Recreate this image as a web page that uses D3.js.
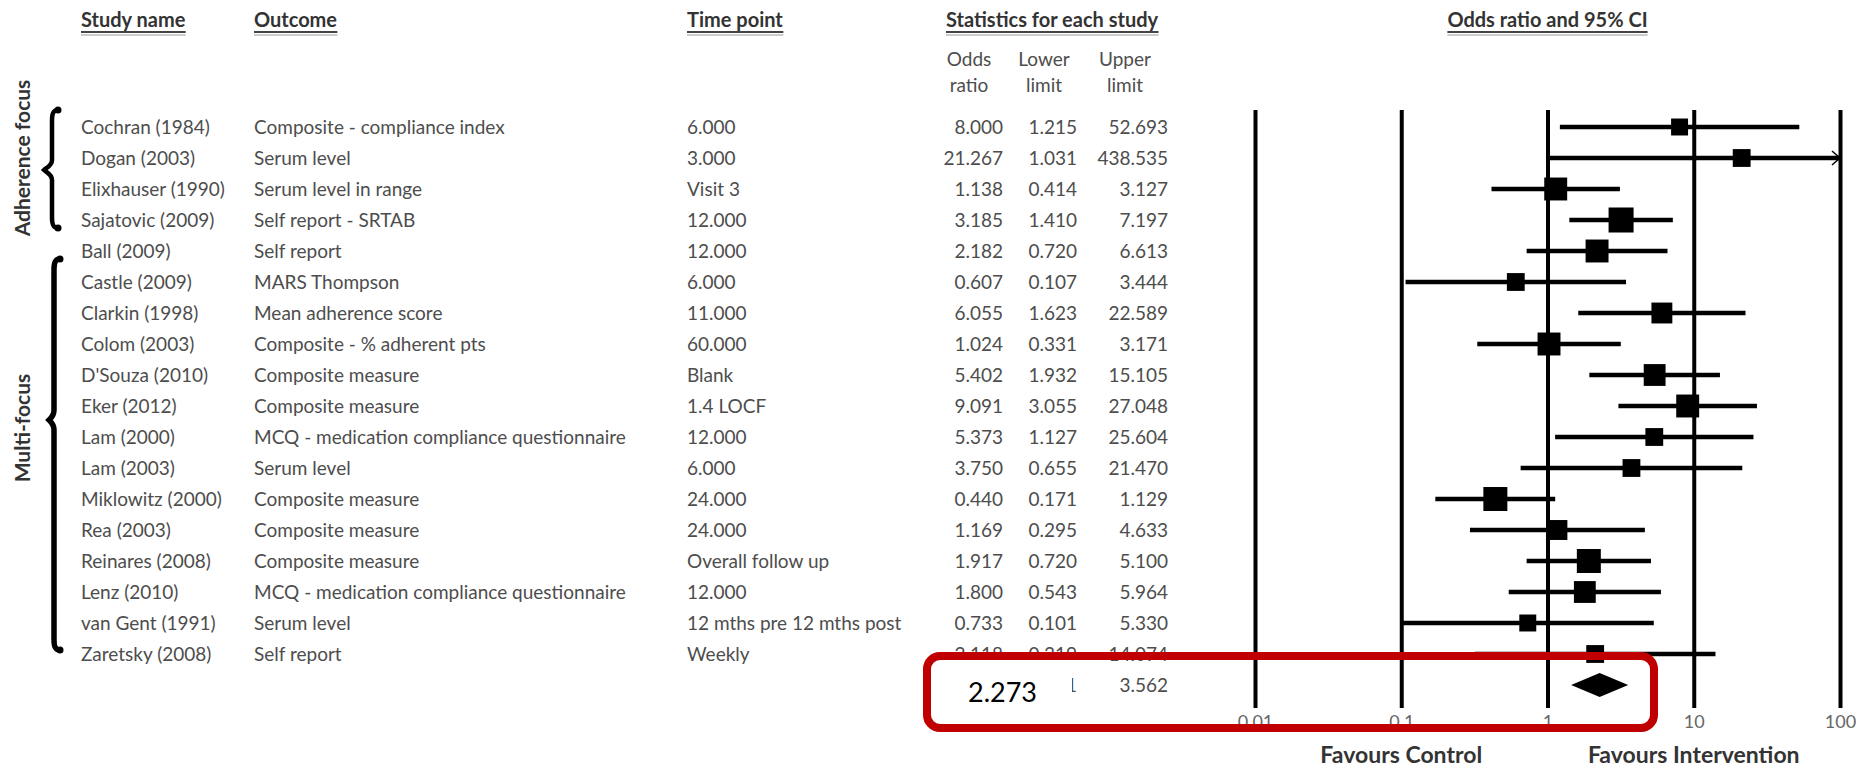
<!DOCTYPE html>
<html>
<head>
<meta charset="utf-8" />
<title>Odds ratio and 95% CI</title>
<script src="https://cdn.jsdelivr.net/npm/d3@7"></script>
<style>
body { margin: 0; background: #fff; }
svg text { font-family: Lato, "Open Sans", sans-serif; }
.body-text { font-size: 19px; fill: #4d4d4d; }
.head-text { font-size: 20px; font-weight: bold; fill: #333; }
</style>
</head>
<body>
<svg id="chart" width="1860" height="770"></svg>
<script>
// study rows
const studies = ["Cochran (1984)", "Dogan (2003)", "Elixhauser (1990)", "Sajatovic (2009)", "Ball (2009)",
  "Castle (2009)", "Clarkin (1998)", "Colom (2003)", "D'Souza (2010)", "Eker (2012)", "Lam (2000)",
  "Lam (2003)", "Miklowitz (2000)", "Rea (2003)", "Reinares (2008)", "Lenz (2010)", "van Gent (1991)",
  "Zaretsky (2008)"];
const outcomes = ["Composite - compliance index", "Serum level", "Serum level in range", "Self report - SRTAB",
  "Self report", "MARS Thompson", "Mean adherence score", "Composite - % adherent pts", "Composite measure",
  "Composite measure", "MCQ - medication compliance questionnaire", "Serum level", "Composite measure",
  "Composite measure", "Composite measure", "MCQ - medication compliance questionnaire", "Serum level",
  "Self report"];
const timePoints = ["6.000", "3.000", "Visit 3", "12.000", "12.000", "6.000", "11.000", "60.000", "Blank",
  "1.4 LOCF", "12.000", "6.000", "24.000", "24.000", "Overall follow up", "12.000",
  "12 mths pre 12 mths post", "Weekly"];
const oddsRatio = [8.000, 21.267, 1.138, 3.185, 2.182, 0.607, 6.055, 1.024, 5.402, 9.091, 5.373, 3.750,
  0.440, 1.169, 1.917, 1.800, 0.733, 2.118];
const lowerLimit = [1.215, 1.031, 0.414, 1.410, 0.720, 0.107, 1.623, 0.331, 1.932, 3.055, 1.127, 0.655,
  0.171, 0.295, 0.720, 0.543, 0.101, 0.319];
const upperLimit = [52.693, 438.535, 3.127, 7.197, 6.613, 3.444, 22.589, 3.171, 15.105, 27.048, 25.604,
  21.470, 1.129, 4.633, 5.100, 5.964, 5.330, 14.074];
// relative weight (square area)
const relWeight = [2.9, 3.2, 5.3, 6.3, 5.3, 3.2, 4.4, 5.3, 4.8, 5.3, 3.2, 3.2, 5.8, 4.0, 5.8, 4.8, 2.9, 3.2];

const pooled = { or: 2.273, lower: 1.451, upper: 3.562 };
const axisTicks = [0.01, 0.1, 1, 10, 100];
const tickLabels = ["0.01", "0.1", "1", "10", "100"];
const groups = [
  { name: "Adherence focus", first: 0, last: 3 },
  { name: "Multi-focus", first: 4, last: 17 }
];

const svg = d3.select("#chart");
const fmt = d3.format(".3f");

const x = d3.scaleLog().domain([0.01, 100]).range([1255, 1840]);
const y = d3.scaleLinear().domain([0, 18]).range([127, 685]);
const size = d3.scaleSqrt().domain([0, 6.3]).range([0, 25]);

// column headers
const headers = [
  { t: "Study name", x: 81, anchor: "start" },
  { t: "Outcome", x: 254, anchor: "start" },
  { t: "Time point", x: 687, anchor: "start" },
  { t: "Statistics for each study", x: 946, anchor: "start" },
  { t: "Odds ratio and 95% CI", x: x(1), anchor: "middle" }
];
headers.forEach(h => {
  const t = svg.append("text").attr("class", "head-text")
    .attr("x", h.x).attr("y", 27).attr("text-anchor", h.anchor).text(h.t);
  const bb = t.node().getBBox();
  svg.append("line").attr("x1", bb.x).attr("x2", bb.x + bb.width)
    .attr("y1", 32).attr("y2", 32).attr("stroke", "#444").attr("stroke-width", 1.8);
  svg.append("line").attr("x1", bb.x).attr("x2", bb.x + bb.width)
    .attr("y1", 35).attr("y2", 35).attr("stroke", "#999").attr("stroke-width", 1.2);
});

// stat sub headers
const subHeads = [["Odds", "ratio", 969], ["Lower", "limit", 1044], ["Upper", "limit", 1125]];
subHeads.forEach(s => {
  svg.append("text").attr("class", "body-text").attr("x", s[2]).attr("y", 66)
    .attr("text-anchor", "middle").text(s[0]);
  svg.append("text").attr("class", "body-text").attr("x", s[2]).attr("y", 92)
    .attr("text-anchor", "middle").text(s[1]);
});

// table rows
const rows = svg.append("g").selectAll("g").data(studies).join("g")
  .attr("transform", (d, i) => `translate(0,${y(i)})`);
rows.append("text").attr("class", "body-text").attr("x", 81).attr("dy", "0.35em").text(d => d);
rows.append("text").attr("class", "body-text").attr("x", 254).attr("dy", "0.35em").text((d, i) => outcomes[i]);
rows.append("text").attr("class", "body-text").attr("x", 687).attr("dy", "0.35em").text((d, i) => timePoints[i]);
rows.append("text").attr("class", "body-text").attr("x", 1003).attr("dy", "0.35em")
  .attr("text-anchor", "end").text((d, i) => fmt(oddsRatio[i]));
rows.append("text").attr("class", "body-text").attr("x", 1077).attr("dy", "0.35em")
  .attr("text-anchor", "end").text((d, i) => fmt(lowerLimit[i]));
rows.append("text").attr("class", "body-text").attr("x", 1168).attr("dy", "0.35em")
  .attr("text-anchor", "end").text((d, i) => fmt(upperLimit[i]));

// summary row numbers
svg.append("text").attr("class", "body-text").attr("x", 1077).attr("y", y(18)).attr("dy", "0.35em")
  .attr("text-anchor", "end").text(fmt(pooled.lower));
svg.append("text").attr("class", "body-text").attr("x", 1168).attr("y", y(18)).attr("dy", "0.35em")
  .attr("text-anchor", "end").text(fmt(pooled.upper));

// vertical reference lines + tick labels
const axis = d3.axisBottom(x).tickValues(axisTicks)
  .tickFormat((d, i) => tickLabels[i]).tickSize(-(708 - 110)).tickPadding(7);
const gAxis = svg.append("g").attr("transform", "translate(0,708)").call(axis);
gAxis.select(".domain").remove();
gAxis.selectAll(".tick line").attr("stroke", "#000").attr("stroke-width", 4);
gAxis.selectAll(".tick text").attr("font-size", 18).attr("fill", "#666")
  .attr("font-family", "Lato, 'Open Sans', sans-serif");

// confidence intervals
const plot = svg.append("g");
studies.forEach((s, i) => {
  const hi = Math.min(upperLimit[i], 100);
  plot.append("line").attr("x1", x(lowerLimit[i])).attr("x2", x(hi))
    .attr("y1", y(i)).attr("y2", y(i)).attr("stroke", "#000").attr("stroke-width", 4.5);
  if (upperLimit[i] > 100) {
    plot.append("path")
      .attr("d", `M${x(100) - 8},${y(i) - 7}L${x(100)},${y(i)}L${x(100) - 8},${y(i) + 7}`)
      .attr("fill", "none").attr("stroke", "#000").attr("stroke-width", 1.5);
  }
  const w = size(relWeight[i]);
  plot.append("rect").attr("x", x(oddsRatio[i]) - w / 2).attr("y", y(i) - w / 2)
    .attr("width", w).attr("height", w).attr("fill", "#000");
});

// pooled diamond
const yp = y(18);
plot.append("path")
  .attr("d", `M${x(pooled.lower)},${yp}L${x(pooled.or)},${yp - 12}L${x(pooled.upper)},${yp}L${x(pooled.or)},${yp + 12}Z`)
  .attr("fill", "#000");

// favours labels
svg.append("text").attr("x", x(0.1)).attr("y", 763).attr("text-anchor", "middle")
  .attr("font-size", 23).attr("font-weight", "bold").attr("fill", "#333").text("Favours Control");
svg.append("text").attr("x", x(10)).attr("y", 763).attr("text-anchor", "middle")
  .attr("font-size", 23).attr("font-weight", "bold").attr("fill", "#333").text("Favours Intervention");

// group braces
function brace(top, bottom, mid, xv, depth) {
  return `M${xv + 6},${top}C${xv + 1},${top} ${xv},${top + 4} ${xv},${top + 10}` +
    `L${xv},${mid - 10}C${xv},${mid - 4} ${xv - depth + 2},${mid - 2} ${xv - depth},${mid}` +
    `C${xv - depth + 2},${mid + 2} ${xv},${mid + 4} ${xv},${mid + 10}` +
    `L${xv},${bottom - 10}C${xv},${bottom - 4} ${xv + 1},${bottom} ${xv + 6},${bottom}`;
}
const braceSpec = [
  { top: 110, bottom: 228, mid: 170, xv: 52, depth: 8, w: 4.5, label: 158 },
  { top: 259, bottom: 650, mid: 420, xv: 54, depth: 5, w: 5.5, label: 428 }
];
groups.forEach((g, k) => {
  const b = braceSpec[k];
  svg.append("path").attr("d", brace(b.top, b.bottom, b.mid, b.xv, b.depth))
    .attr("fill", "none").attr("stroke", "#000").attr("stroke-width", b.w).attr("stroke-linecap", "round");
  svg.append("circle").attr("cx", b.xv + 6).attr("cy", b.top).attr("r", 3.5).attr("fill", "#000");
  svg.append("circle").attr("cx", b.xv + 6).attr("cy", b.bottom).attr("r", 3.5).attr("fill", "#000");
  svg.append("text").attr("transform", `translate(30,${b.label}) rotate(-90)`)
    .attr("text-anchor", "middle").attr("font-size", 21).attr("font-weight", "bold")
    .attr("fill", "#333").text(g.name);
});

// highlight box over pooled result
svg.append("rect").attr("x", 932).attr("y", 660).attr("width", 140).attr("height", 62).attr("fill", "#fff");
svg.append("text").attr("x", 968).attr("y", 702).attr("font-size", 27)
  .attr("font-family", "'Liberation Sans', Arial, sans-serif").attr("fill", "#000").text(fmt(pooled.or));
svg.append("rect").attr("x", 927).attr("y", 656).attr("width", 727).attr("height", 72)
  .attr("rx", 13).attr("fill", "none").attr("stroke", "#c00000").attr("stroke-width", 8);
</script>
</body>
</html>
